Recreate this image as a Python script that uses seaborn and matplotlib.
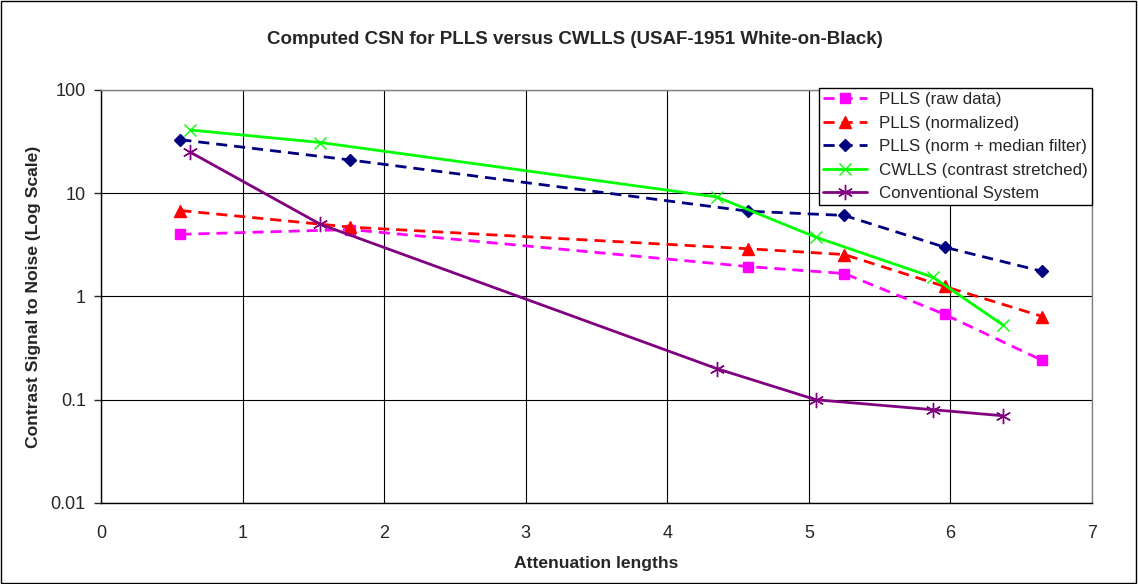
import numpy as np
import pandas as pd
import matplotlib
matplotlib.use('Agg')
import matplotlib.pyplot as plt
import seaborn as sns
from matplotlib.ticker import FixedLocator, FixedFormatter, NullLocator

sns.set_style('white')
plt.rcParams['font.family'] = ['Liberation Sans', 'DejaVu Sans']

# Datos
x_plls = [0.56, 1.76, 4.57, 5.25, 5.96, 6.65]
y_raw = [4.0, 4.45, 1.95, 1.67, 0.67, 0.24]
y_norm = [6.8, 4.7, 2.9, 2.55, 1.25, 0.64]
y_median = [33, 21, 6.7, 6.1, 3.0, 1.75]

x_cw = [0.63, 1.55, 4.35, 5.05, 5.88, 6.37]
y_cwlls = [41, 31, 9.2, 3.75, 1.53, 0.53]
y_conv = [25, 5.0, 0.20, 0.10, 0.08, 0.07]

series = [
    ('PLLS (raw data)', x_plls, y_raw, '#FF00FF', 's', (4, 2.5), 7),
    ('PLLS (normalized)', x_plls, y_norm, '#FF0000', '^', (4, 2.5), 8),
    ('PLLS (norm + median filter)', x_plls, y_median, '#000080', 'D', (4, 2.5), 6.5),
    ('CWLLS (contrast stretched)', x_cw, y_cwlls, '#00FF00', 'x', None, 8),
    ('Conventional System', x_cw, y_conv, '#800080', (6, 2, 0), None, 11),
]

fig = plt.figure(figsize=(11.38, 5.84), dpi=100)
ax = fig.add_axes([0.0888, 0.1387, 0.8708, 0.7072])

for name, xs, ys, col, mk, dash, ms in series:
    df = pd.DataFrame({'x': xs, 'y': ys})
    sns.lineplot(data=df, x='x', y='y', ax=ax, color=col, marker=mk,
                 markersize=ms, markeredgecolor=col, markeredgewidth=1.0,
                 linewidth=2, label=name, sort=False)
    line = ax.lines[-1]
    if dash is not None:
        line.set_dashes(dash)

ax.set_yscale('log')
ax.set_xlim(0, 7)
ax.set_ylim(0.01, 100)
ax.set_xticks(range(0, 8))
ax.yaxis.set_major_locator(FixedLocator([0.01, 0.1, 1, 10, 100]))
ax.yaxis.set_major_formatter(FixedFormatter(['0.01', '0.1', '1', '10', '100']))
ax.yaxis.set_minor_locator(NullLocator())
ax.tick_params(axis='y', labelsize=13, length=5, width=1, direction='out', pad=6, left=True)
ax.tick_params(axis='x', labelsize=13, length=0, pad=16)
ax.grid(True, color='black', linewidth=0.8)
for s in ax.spines.values():
    s.set_color('#808080')
    s.set_linewidth(1)
ax.spines['left'].set_color('black')
ax.spines['bottom'].set_color('black')

ax.set_xlabel('Attenuation lengths', fontsize=12.6, fontweight='bold', labelpad=10)
ax.set_ylabel('Contrast Signal to Noise (Log Scale)', fontsize=12.6, fontweight='bold', labelpad=7)
fig.suptitle('Computed CSN for PLLS versus CWLLS (USAF-1951 White-on-Black)',
             fontsize=13.5, fontweight='bold', x=0.505, y=0.947)

leg = ax.legend(loc='upper right', bbox_to_anchor=(1.0, 1.005), fontsize=12.2,
                frameon=True, fancybox=False, framealpha=1, edgecolor='black',
                handlelength=2.6, borderpad=0.25, labelspacing=0.5, handletextpad=0.7,
                borderaxespad=0)
leg.get_frame().set_linewidth(1)

fig.patches.append(plt.Rectangle((0.0005, 0.001), 0.998, 0.997, transform=fig.transFigure,
                                 fill=False, edgecolor='black', linewidth=1))

fig.savefig('out.png', dpi=100)
